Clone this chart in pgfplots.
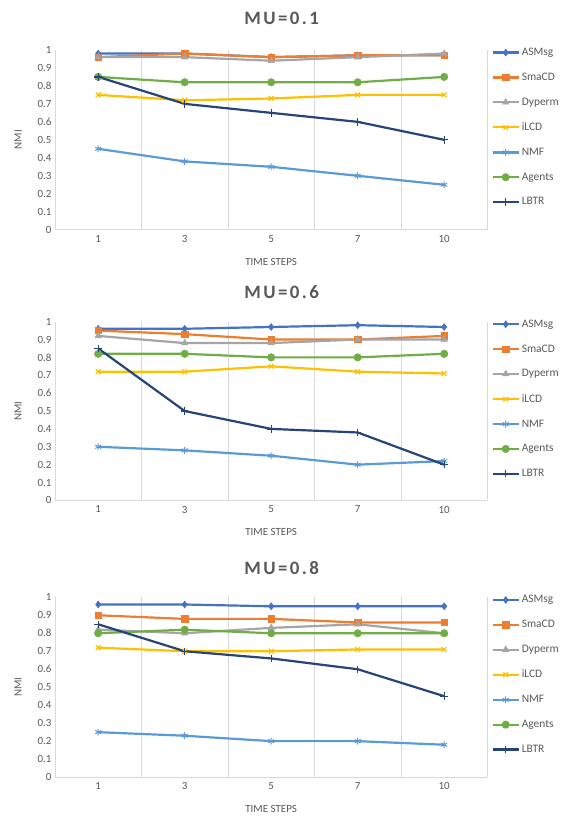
\documentclass[border=0pt]{standalone}
\usepackage{pgfplots}
\pgfplotsset{compat=1.18}
\usepackage{fontspec}
\setmainfont{Carlito}
\definecolor{cASM}{HTML}{4472C4}
\definecolor{cSma}{HTML}{ED7D31}
\definecolor{cDyp}{HTML}{A5A5A5}
\definecolor{cILCD}{HTML}{FFC000}
\definecolor{cNMF}{HTML}{5B9BD5}
\definecolor{cAg}{HTML}{70AD47}
\definecolor{cLB}{HTML}{264478}
\definecolor{tgray}{HTML}{595959}
\definecolor{ggray}{HTML}{D9D9D9}
\newcommand{\tk}{\kern2.4bp}
\pgfplotsset{
 nmi/.style={
  scale only axis, width=433bp, height=180bp,
  xmin=-0.5, xmax=4.5, ymin=0, ymax=1,
  xtick={0,1,2,3,4}, xticklabels={1,3,5,7,10},
  ytick={0,0.1,0.2,0.3,0.4,0.5,0.6,0.7,0.8,0.9,1},
  yticklabel style={/pgf/number format/fixed,/pgf/number format/precision=1},
  /pgf/number format/assume math mode=true,
  minor xtick={-0.5,0.5,1.5,2.5,3.5,4.5},
  xminorgrids, minor x grid style={ggray, line width=0.8bp},
  major tick length=0pt, minor tick length=0pt,
  axis lines*=left,
  x axis line style={-, draw=ggray, line width=0.8bp},
  y axis line style={draw=none},
  tick label style={font=\fontsize{11}{12}\selectfont, text=tgray},
  xticklabel style={yshift=-2bp},
  xlabel={TIME STEPS}, ylabel={NMI},
  label style={font=\fontsize{11}{12}\selectfont, text=tgray},
  xlabel style={at={(axis description cs:0.5,-0.178)}, anchor=center},
  ylabel style={at={(axis description cs:-0.085,0.5)}, anchor=center},
  legend style={at={(axis description cs:1,1)}, anchor=north west, xshift=4bp, yshift=4bp,
    draw=none, fill=none, inner sep=0pt, row sep=12bp,
    font=\fontsize{11.5}{12.5}\selectfont, text=tgray,
    nodes={inner xsep=2bp}},
  legend cell align=left,
  legend image code/.code={\draw[line width=2.2bp, mark repeat=2,mark phase=2] plot coordinates {(0bp,0bp)(13bp,0bp)(26bp,0bp)};},
 },
 sA/.style={color=cASM, line width=2.2bp, mark=diamond*, mark size=3.4bp, mark options={line width=0.6bp}},
 sS/.style={color=cSma, line width=2.2bp, mark=square*, mark size=3.2bp, mark options={line width=0.6bp}},
 sD/.style={color=cDyp, line width=2.2bp, mark=triangle*, mark size=3.7bp, mark options={line width=0.6bp}},
 sI/.style={color=cILCD, line width=2.2bp, mark=x, mark size=3.4bp, mark options={line width=1.2bp}},
 sN/.style={color=cNMF, line width=2.2bp, mark=asterisk, mark size=3.4bp, mark options={line width=1bp}},
 sG/.style={color=cAg, line width=2.2bp, mark=*, mark size=3.7bp, mark options={line width=0.6bp}},
 sL/.style={color=cLB, line width=2.2bp, mark=+, mark size=3.7bp, mark options={line width=1.2bp}},
}
\begin{document}
\begin{tikzpicture}
\path (0,0) rectangle (561bp,-816bp);
\node[font=\bfseries\fontsize{19}{22}\selectfont, text=tgray] at (282bp,-18bp) {M\tk U\tk =\tk 0\tk .\tk 1};
\node[font=\bfseries\fontsize{19}{22}\selectfont, text=tgray] at (282bp,-292bp) {M\tk U\tk =\tk 0\tk .\tk 6};
\node[font=\bfseries\fontsize{19}{22}\selectfont, text=tgray] at (282bp,-569bp) {M\tk U\tk =\tk 0\tk .\tk 8};
% Panel 1
\begin{axis}[nmi, at={(55bp,-230bp)}, anchor=south west]
\addplot[sA] coordinates {(0,0.98)(1,0.98)(2,0.96)(3,0.97)(4,0.97)};
\addplot[sS] coordinates {(0,0.96)(1,0.98)(2,0.96)(3,0.97)(4,0.97)};
\addplot[sD] coordinates {(0,0.96)(1,0.96)(2,0.94)(3,0.96)(4,0.98)};
\addplot[sI] coordinates {(0,0.75)(1,0.72)(2,0.73)(3,0.75)(4,0.75)};
\addplot[sN] coordinates {(0,0.45)(1,0.38)(2,0.35)(3,0.30)(4,0.25)};
\addplot[sG] coordinates {(0,0.85)(1,0.82)(2,0.82)(3,0.82)(4,0.85)};
\addplot[sL] coordinates {(0,0.85)(1,0.70)(2,0.65)(3,0.60)(4,0.50)};
\legend{ASMsg,SmaCD,Dyperm,iLCD,NMF,Agents,LBTR}
\end{axis}
% Panel 2
\begin{axis}[nmi, height=179bp, at={(55bp,-501bp)}, anchor=south west]
\addplot[sA] coordinates {(0,0.96)(1,0.96)(2,0.97)(3,0.98)(4,0.97)};
\addplot[sS] coordinates {(0,0.95)(1,0.93)(2,0.90)(3,0.90)(4,0.92)};
\addplot[sD] coordinates {(0,0.92)(1,0.88)(2,0.88)(3,0.90)(4,0.90)};
\addplot[sI] coordinates {(0,0.72)(1,0.72)(2,0.75)(3,0.72)(4,0.71)};
\addplot[sN] coordinates {(0,0.30)(1,0.28)(2,0.25)(3,0.20)(4,0.22)};
\addplot[sG] coordinates {(0,0.82)(1,0.82)(2,0.80)(3,0.80)(4,0.82)};
\addplot[sL] coordinates {(0,0.85)(1,0.50)(2,0.40)(3,0.38)(4,0.20)};
\legend{ASMsg,SmaCD,Dyperm,iLCD,NMF,Agents,LBTR}
\end{axis}
% Panel 3
\begin{axis}[nmi, at={(55bp,-778bp)}, anchor=south west]
\addplot[sA] coordinates {(0,0.96)(1,0.96)(2,0.95)(3,0.95)(4,0.95)};
\addplot[sS] coordinates {(0,0.90)(1,0.88)(2,0.88)(3,0.86)(4,0.86)};
\addplot[sD] coordinates {(0,0.82)(1,0.80)(2,0.83)(3,0.85)(4,0.80)};
\addplot[sI] coordinates {(0,0.72)(1,0.70)(2,0.70)(3,0.71)(4,0.71)};
\addplot[sN] coordinates {(0,0.25)(1,0.23)(2,0.20)(3,0.20)(4,0.18)};
\addplot[sG] coordinates {(0,0.80)(1,0.82)(2,0.80)(3,0.80)(4,0.80)};
\addplot[sL] coordinates {(0,0.85)(1,0.70)(2,0.66)(3,0.60)(4,0.45)};
\legend{ASMsg,SmaCD,Dyperm,iLCD,NMF,Agents,LBTR}
\end{axis}
\end{tikzpicture}
\end{document}
